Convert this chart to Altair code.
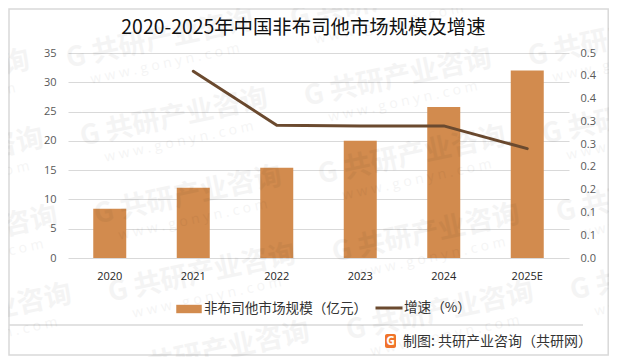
import altair as alt
import pandas as pd

years = ["2020", "2021", "2022", "2023", "2024", "2025E"]
market_size = [8.4, 12.0, 15.4, 20.0, 25.8, 32.0]
growth = [None, 0.41, 0.2915, 0.29, 0.29, 0.24]
bar_name = "非布司他市场规模（亿元）"
line_name = "增速（%）"
title_text = "2020-2025年中国非布司他市场规模及增速"
source_text = "制图: 共研产业咨询（共研网）"
wm_main = "G 共研产业咨询"
wm_sub = "w w w . g o n y n . c o m"
left_ticks = [0, 5, 10, 15, 20, 25, 30, 35]
right_ticks = [0, 0.05, 0.1, 0.15, 0.2, 0.25, 0.3, 0.35, 0.4, 0.45]

CJK = "Noto Sans CJK SC"
LATIN = "Open Sans"
GRID = "#d9d9d9"
BAR = "#d28b4e"
LINE = "#6b4a2f"
PL, PT, W, H = 68, 53, 501, 205


def px(x):
    return x - PL


def py(y):
    return y - PT


df = pd.DataFrame({"year": years, "size": market_size, "growth": growth,
                   "bar": bar_name, "line": line_name})
one = pd.DataFrame({"a": [0]})
x_scale = alt.Scale(paddingInner=0, paddingOuter=0, round=False)

x_enc = alt.X("year:N", sort=years, title=None, scale=x_scale, axis=alt.Axis(
    labelAngle=0, labelColor="#262626", labelFont=LATIN, labelFontSize=11,
    labelPadding=12, ticks=False, domain=False, grid=False))

frame = alt.Chart(one).mark_rect(
    fillOpacity=0, stroke=GRID, strokeWidth=1.5
).encode(x=alt.value(px(9)), x2=alt.value(px(608.2)), y=alt.value(py(9)), y2=alt.value(py(355)))

sep = alt.Chart(one).mark_rule(color=GRID, strokeWidth=1.5).encode(
    x=alt.value(px(9)), x2=alt.value(px(583)), y=alt.value(py(325)))

bars = alt.Chart(df).mark_bar(size=33).encode(
    x=x_enc,
    y=alt.Y("size:Q", title=None, scale=alt.Scale(domain=[0, 35]), axis=alt.Axis(
        values=left_ticks, labelColor="#595959", labelFont=LATIN, labelFontSize=11,
        labelPadding=12, ticks=False, domain=False, grid=True, gridColor=GRID,
        gridWidth=1.2)),
    fill=alt.Fill("bar:N", scale=alt.Scale(domain=[bar_name], range=[BAR]), legend=alt.Legend(
        orient="none", legendX=px(176), legendY=py(296), title=None,
        symbolType="M-1,-0.33H1V0.33H-1Z", symbolSize=650, symbolStrokeWidth=0, symbolOpacity=1,
        labelFont=CJK, labelFontSize=13.6, labelColor="#333333", labelOffset=2, labelLimit=300)),
)

line = alt.Chart(df).mark_line(strokeWidth=3, strokeJoin="round", strokeCap="round").encode(
    x=alt.X("year:N", sort=years, title=None, scale=x_scale),
    y=alt.Y("growth:Q", title=None, scale=alt.Scale(domain=[0, 0.45]), axis=alt.Axis(
        orient="right", values=right_ticks, labelExpr="format(datum.value + 0.001, '.1f')",
        labelColor="#595959", labelFont=LATIN, labelFontSize=11, labelPadding=11,
        ticks=False, domain=False, grid=False)),
    stroke=alt.Stroke("line:N", scale=alt.Scale(domain=[line_name], range=[LINE]), legend=alt.Legend(
        orient="none", legendX=px(374), legendY=py(293), title=None,
        symbolType="stroke", symbolSize=729, symbolStrokeWidth=3,
        labelFont=CJK, labelFontSize=13.6, labelColor="#333333", labelOffset=0, labelLimit=300)),
)

# Repeating background watermark tiles
tiles = []
for col in range(-1, 3):
    for row in range(0, 5):
        tiles.append({"x": px(160 + 14 * row + 224 * col), "y": py(40 + 78 * row - 40 * col)})
tile_df = pd.DataFrame(tiles)
tile_sub = pd.DataFrame({"x": tile_df["x"] + 5, "y": tile_df["y"] + 24})

wm_a = alt.Chart(tile_df).mark_text(
    text=wm_main, font=CJK, fontSize=27.5, fontWeight="bold", angle=348, color="#000000",
    opacity=0.04
).encode(x=alt.X("x:Q", scale=None), y=alt.Y("y:Q", scale=None))

wm_b = alt.Chart(tile_sub).mark_text(
    text=wm_sub, font=LATIN, fontSize=14, angle=348, color="#000000", opacity=0.04
).encode(x=alt.X("x:Q", scale=None), y=alt.Y("y:Q", scale=None))

title_mark = alt.Chart(one).mark_text(
    text=title_text, font=CJK, fontSize=19.4, color="#111111"
).encode(x=alt.value(px(303.5)), y=alt.value(py(28)))

icon = alt.Chart(one).mark_rect(color="#f0742a", cornerRadius=2).encode(
    x=alt.value(px(385)), x2=alt.value(px(396)), y=alt.value(py(334)), y2=alt.value(py(348)))
icon_g = alt.Chart(one).mark_text(
    text="G", font=LATIN, fontSize=12, fontWeight="bold", color="#ffffff"
).encode(x=alt.value(px(390.5)), y=alt.value(py(341)))
source = alt.Chart(one).mark_text(
    text=source_text, font=CJK, fontSize=14, align="left", color="#333333"
).encode(x=alt.value(px(403)), y=alt.value(py(342)))

chart = alt.layer(frame, sep, bars, line, wm_a, wm_b, title_mark, icon, icon_g, source).resolve_scale(
    y="independent", x="shared"
).properties(
    width=W, height=H,
    padding={"left": 60, "top": 45, "right": 40, "bottom": 99},
    autosize=alt.AutoSizeParams(type="none"),
).configure_view(stroke=None)

chart.save("out.html", embed_options={"renderer": "svg", "actions": False})
